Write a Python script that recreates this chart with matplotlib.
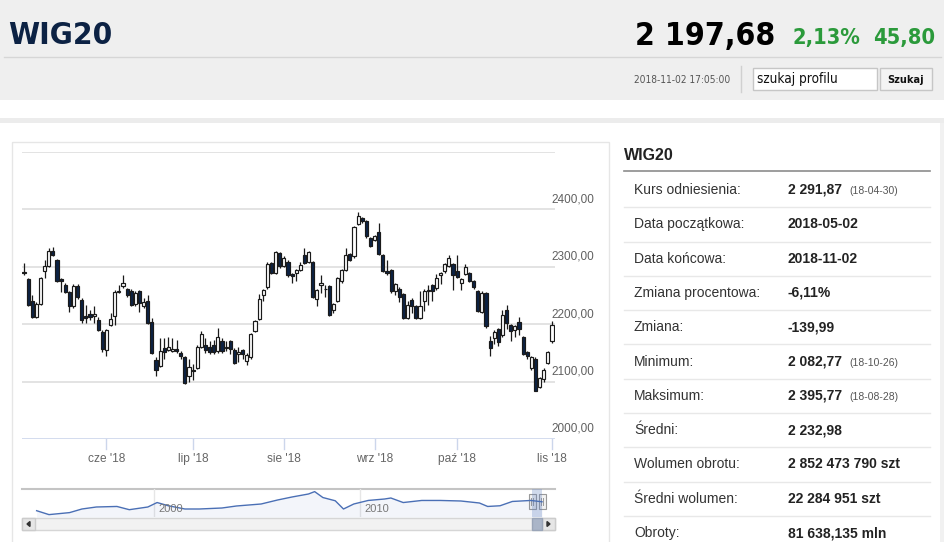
import numpy as np
import pandas as pd
import matplotlib
matplotlib.use("Agg")
import matplotlib.pyplot as plt
from matplotlib import font_manager as fm
from matplotlib.font_manager import FontProperties
from matplotlib.patches import Rectangle, Polygon

W, H = 945, 542

# WIG20 daily candles, 2018-05-02 .. 2018-11-02
holidays = ["2018-05-03", "2018-05-31", "2018-08-15", "2018-11-01"]
opens = [2291, 2279, 2241, 2213, 2236, 2292, 2302, 2328, 2311, 2278,
         2269, 2256, 2231, 2267, 2243, 2214, 2218, 2214, 2208, 2187,
         2155, 2198, 2215, 2256, 2266, 2261, 2258, 2236, 2257, 2231,
         2240, 2204, 2138, 2127, 2159, 2155, 2154, 2156, 2150, 2142,
         2110, 2121, 2124, 2161, 2164, 2161, 2163, 2153, 2171, 2161,
         2170, 2155, 2148, 2155, 2136, 2142, 2188, 2209, 2250, 2264,
         2307, 2289, 2324, 2302, 2309, 2287, 2289, 2295, 2321, 2308,
         2308, 2244, 2269, 2262, 2266, 2225, 2240, 2275, 2295, 2322,
         2318, 2374, 2385, 2380, 2350, 2347, 2361, 2320, 2292, 2294,
         2258, 2262, 2252, 2211, 2243, 2231, 2211, 2240, 2257, 2268,
         2263, 2285, 2293, 2301, 2305, 2292, 2272, 2287, 2289, 2275,
         2258, 2221, 2254, 2171, 2176, 2192, 2182, 2225, 2198, 2190,
         2204, 2177, 2152, 2123, 2140, 2090, 2105, 2132, 2170]
highs = [2307, 2281, 2251, 2238, 2282, 2312, 2333, 2335, 2313, 2280,
         2272, 2258, 2270, 2270, 2246, 2233, 2225, 2231, 2212, 2190,
         2192, 2219, 2260, 2269, 2286, 2263, 2262, 2258, 2260, 2245,
         2250, 2210, 2142, 2176, 2176, 2177, 2176, 2173, 2154, 2144,
         2140, 2130, 2163, 2188, 2176, 2170, 2172, 2194, 2176, 2170,
         2172, 2158, 2160, 2157, 2150, 2185, 2208, 2252, 2262, 2308,
         2309, 2328, 2326, 2318, 2312, 2290, 2297, 2308, 2333, 2327,
         2310, 2262, 2286, 2269, 2268, 2237, 2282, 2297, 2333, 2324,
         2371, 2396, 2387, 2382, 2352, 2356, 2376, 2322, 2312, 2296,
         2272, 2264, 2254, 2240, 2245, 2233, 2257, 2262, 2269, 2270,
         2287, 2291, 2307, 2321, 2307, 2321, 2281, 2305, 2291, 2277,
         2260, 2257, 2256, 2180, 2190, 2194, 2225, 2234, 2200, 2198,
         2212, 2179, 2154, 2145, 2142, 2108, 2124, 2154, 2205]
lows = [2285, 2232, 2211, 2210, 2234, 2280, 2300, 2318, 2274, 2256,
        2254, 2222, 2228, 2244, 2202, 2202, 2207, 2202, 2188, 2152,
        2144, 2196, 2199, 2254, 2263, 2248, 2232, 2232, 2222, 2228,
        2200, 2148, 2109, 2125, 2140, 2153, 2152, 2150, 2140, 2095,
        2100, 2102, 2122, 2158, 2150, 2148, 2148, 2150, 2150, 2153,
        2148, 2131, 2135, 2140, 2129, 2140, 2186, 2207, 2240, 2262,
        2287, 2287, 2298, 2300, 2283, 2272, 2275, 2293, 2305, 2306,
        2245, 2231, 2254, 2247, 2214, 2220, 2238, 2272, 2293, 2310,
        2316, 2372, 2376, 2350, 2334, 2345, 2320, 2291, 2286, 2255,
        2250, 2238, 2209, 2209, 2220, 2209, 2209, 2223, 2234, 2240,
        2260, 2270, 2290, 2299, 2260, 2281, 2260, 2285, 2274, 2262,
        2221, 2219, 2194, 2144, 2165, 2162, 2178, 2192, 2170, 2178,
        2182, 2146, 2140, 2120, 2083, 2088, 2100, 2130, 2168]
closes = [2290, 2234, 2213, 2236, 2280, 2302, 2328, 2320, 2276, 2275,
          2256, 2231, 2267, 2248, 2208, 2211, 2213, 2218, 2190, 2157,
          2190, 2209, 2256, 2258, 2271, 2250, 2234, 2254, 2237, 2238,
          2202, 2150, 2120, 2154, 2151, 2161, 2157, 2154, 2144, 2097,
          2126, 2119, 2161, 2183, 2155, 2152, 2152, 2177, 2153, 2158,
          2157, 2133, 2152, 2148, 2147, 2183, 2205, 2244, 2260, 2305,
          2289, 2326, 2301, 2315, 2285, 2284, 2295, 2304, 2307, 2325,
          2247, 2260, 2271, 2261, 2216, 2235, 2280, 2295, 2321, 2312,
          2369, 2389, 2379, 2353, 2336, 2354, 2322, 2293, 2290, 2257,
          2270, 2248, 2211, 2234, 2231, 2211, 2231, 2258, 2260, 2258,
          2281, 2289, 2305, 2315, 2285, 2283, 2279, 2299, 2276, 2264,
          2223, 2254, 2196, 2159, 2186, 2169, 2216, 2202, 2189, 2196,
          2192, 2148, 2144, 2142, 2084, 2106, 2120, 2152, 2198]

month_names = {6: "cze", 7: "lip", 8: "sie", 9: "wrz", 10: "paź", 11: "lis"}
y_ticks = [2000, 2100, 2200, 2300, 2400]

# navigator: whole WIG20 history (rough shape read off the strip)
nav_year = [1994.3, 1994.9, 1995.9, 1996.5, 1997.2, 1998.2, 1998.8, 1999.7,
            2000.15, 2000.7, 2001.5, 2002.2, 2003.3, 2004.0, 2005.2, 2006.0,
            2006.7, 2007.5, 2007.8, 2008.2, 2008.8, 2009.2, 2009.7, 2010.4,
            2011.2, 2011.5, 2012.1, 2013.0, 2013.9, 2014.9, 2015.8, 2016.2,
            2016.8, 2017.4, 2018.3, 2018.84]
nav_level = [1040, 530, 790, 1260, 1520, 1590, 1170, 1520,
             2100, 1680, 1260, 1260, 1390, 1650, 1910, 2430,
             2820, 3210, 3520, 2750, 2330, 1260, 1910, 2370,
             2560, 2690, 2100, 2370, 2370, 2300, 2040, 1590,
             1680, 2240, 2370, 2200]
nav_labels = [2000, 2010]

# side table
row_labels = ["Kurs odniesienia:", "Data początkowa:", "Data końcowa:",
              "Zmiana procentowa:", "Zmiana:", "Minimum:", "Maksimum:",
              "Średni:", "Wolumen obrotu:", "Średni wolumen:", "Obroty:"]
row_values = ["2 291,87", "2018-05-02", "2018-11-02", "-6,11%", "-139,99",
              "2 082,77", "2 395,77", "2 232,98", "2 852 473 790 szt",
              "22 284 951 szt", "81 638,135 mln"]
row_notes = ["(18-04-30)", "", "", "", "", "(18-10-26)", "(18-08-28)",
             "", "", "", ""]

ARIAL = ["Liberation Sans", "DejaVu Sans"]
NAVY = "#0c2244"
GREEN = "#2b9a3b"


def narrow_font(bold):
    # header uses a condensed face; take one if installed, else Roboto
    for f in fm.fontManager.ttflist:
        name = f.name
        if "Mono" in name or "Serif" in name:
            continue
        narrow = ("Narrow" in name or "Condensed" in name
                  or "condensed" in str(f.stretch))
        w = f.weight if isinstance(f.weight, int) else \
            (700 if str(f.weight) in ("bold", "heavy", "black") else 400)
        if narrow and (w >= 700) == bold and f.style == "normal":
            return FontProperties(fname=f.fname)
    return FontProperties(family="Roboto", weight="bold" if bold else "normal")


NB = narrow_font(True)
NR = narrow_font(False)

fig = plt.figure(figsize=(W / 100, H / 100), dpi=100)
fig.patch.set_facecolor("white")
renderer = fig.canvas.get_renderer()


def px_axes(x0, y0, x1, y1):
    return fig.add_axes([x0 / W, 1 - y1 / H, (x1 - x0) / W, (y1 - y0) / H])


def fit(t, width):
    # scale the font so the string spans the width seen in the screenshot
    w = t.get_window_extent(renderer).width
    t.set_fontsize(t.get_fontsize() * width / w)


bg = fig.add_axes([0, 0, 1, 1])
bg.set_xlim(0, W)
bg.set_ylim(H, 0)
bg.axis("off")

# header band
bg.add_patch(Rectangle((0, 0), W, 100, fc="#efefef", ec="none", zorder=0))
bg.plot([4, 941], [57, 57], color="#d6d6d6", lw=1)
bg.add_patch(Rectangle((0, 118), W, 5, fc="#ececec", ec="none", zorder=0))
bg.plot([741, 741], [66, 92], color="#d0d0d0", lw=1)
bg.add_patch(Rectangle((753, 68), 124, 22, fc="white", ec="#c6c6c6", lw=1,
                       zorder=1))
bg.add_patch(Rectangle((880, 68), 52, 22, fc="#f4f4f4", ec="#c6c6c6", lw=1,
                       zorder=1))

head = [
    (8, 44, "WIG20", NB, 28, NAVY, "left", 104),
    (775, 45, "2 197,68", NB, 30, "black", "right", 140),
    (860, 44, "2,13%", NB, 21, GREEN, "right", 68),
    (935, 44, "45,80", NB, 21, GREEN, "right", 62),
    (730, 83, "2018-11-02 17:05:00", NR, 9, "#555555", "right", 97),
    (757, 83, "szukaj profilu", NR, 11, "#111111", "left", 81),
    (906, 83, "Szukaj", NB, 10, "#111111", "center", 36),
]
for hx, hy, s, fp, fs, col, ha, width in head:
    t = bg.text(hx, hy, s, fontproperties=fp, fontsize=fs, color=col,
                ha=ha, va="baseline", zorder=4)
    fit(t, width)

# containers
bg.add_patch(Rectangle((12, 142), 597, 410, fill=False, ec="#e6e6e6", lw=1))
bg.add_patch(Rectangle((940, 123), 5, H - 123, fc="#f1f1f1", ec="none"))

# side table
bg.text(624, 155, "WIG20", family=ARIAL, fontweight="bold", fontsize=11.5,
        color="#222222", va="center")
bg.plot([624, 930], [171, 171], color="#8c8c8c", lw=1.2)
for k, (lab, val, note) in enumerate(zip(row_labels, row_values, row_notes)):
    yc = 190 + k * 34.3
    bg.text(634, yc, lab, family=ARIAL, fontsize=10, color="#333333",
            va="center")
    bg.text(788, yc, val, family=ARIAL, fontsize=10, fontweight="bold",
            color="#222222", va="center")
    if note:
        bg.text(849, yc + 1, note, family=ARIAL, fontsize=7.5,
                color="#555555", va="center")
    if k < len(row_labels) - 1:
        bg.plot([624, 930], [yc + 17.2, yc + 17.2], color="#e8e8e8", lw=1)

# candlestick chart
dates = pd.bdate_range("2018-05-02", "2018-11-02", freq="C",
                       holidays=holidays)
o, h, l, c = (np.array(v, dtype=float) for v in (opens, highs, lows, closes))
x = np.arange(len(o))

ax = px_axes(22, 152, 555, 439)
ax.set_xlim(-0.485, 128.73)
ax.set_ylim(2000, 2500)
ax.axis("off")
for v in y_ticks[1:] + [2500]:
    ax.axhline(v, color="#dedede", lw=1.2, zorder=0)
ax.axhline(2000, color="#ccd6eb", lw=1.2, zorder=0)

up = c >= o
ax.vlines(x, l, h, color="#1a1a1a", lw=0.9, zorder=2)
ax.bar(x, np.maximum(np.abs(c - o), 0.8), 0.75, bottom=np.minimum(o, c),
       color=np.where(up, "white", NAVY), edgecolor="#1a1a1a", lw=0.85,
       zorder=3)

for v in y_ticks:
    ax.annotate(f"{v},00", xy=((551 - 22) / 533, v),
                xycoords=("axes fraction", "data"), xytext=(0, 3),
                textcoords="offset points", family=ARIAL, fontsize=8.5,
                color="#606060", va="bottom", annotation_clip=False)

months = dates.month
first_idx = [i for i in range(1, len(dates)) if months[i] != months[i - 1]]
for i in first_idx:
    ax.plot([i, i], [2000, 1983], color="#ccd6eb", lw=1, clip_on=False)
    ax.annotate(f"{month_names[months[i]]} '18", xy=(i, 2000),
                xycoords="data", xytext=(0, -10), textcoords="offset points",
                family=ARIAL, fontsize=8.6, color="#666666", ha="center",
                va="top", annotation_clip=False)

# navigator
nav = px_axes(22, 489, 555, 517)
nav.set_xlim(1993.59, 2019.47)
nav.set_ylim(220, 3860)
nav.axis("off")
for yr in nav_labels:
    nav.axvline(yr, color="#e6e6e6", lw=1, zorder=0)
    nav.text(yr + 0.2, 1200, str(yr), family=ARIAL, fontsize=8,
             color="#777777", va="center")
nav.fill_between(nav_year, nav_level, 220, color="#335cad", alpha=0.06,
                 lw=0)
nav.plot(nav_year, nav_level, color="#4a6fb5", lw=1)
nav.axvspan(dates[0].year + (dates[0].dayofyear - 1) / 365,
            dates[-1].year + (dates[-1].dayofyear - 1) / 365,
            color=(102 / 255, 133 / 255, 194 / 255, 0.3), lw=0)
bg.plot([22, 555], [489, 489], color="#c4c4c4", lw=1.5)

# scrollbar and handles
bg.add_patch(Rectangle((22, 518), 533, 12, fc="#f2f2f2", ec="#d6d6d6", lw=1))
bg.add_patch(Rectangle((22, 518), 13, 12, fc="#e6e6e6", ec="#cccccc", lw=1))
bg.add_patch(Rectangle((542, 518), 13, 12, fc="#e6e6e6", ec="#cccccc", lw=1))
bg.add_patch(Polygon([(27, 524), (30, 521.5), (30, 526.5)], color="#333333"))
bg.add_patch(Polygon([(550, 524), (547, 521.5), (547, 526.5)],
                     color="#333333"))
bg.add_patch(Rectangle((532, 518), 10, 12, fc="#aab5c8", ec="#9aa5b8", lw=1))
for hx in (532, 542):
    bg.add_patch(Rectangle((hx - 3.5, 494), 7, 15, fc="#f2f2f2",
                           ec="#999999", lw=0.8, zorder=5))
    bg.plot([hx - 1, hx - 1], [498, 505], color="#999999", lw=0.7, zorder=6)
    bg.plot([hx + 1, hx + 1], [498, 505], color="#999999", lw=0.7, zorder=6)

fig.savefig("out.png", dpi=100)
